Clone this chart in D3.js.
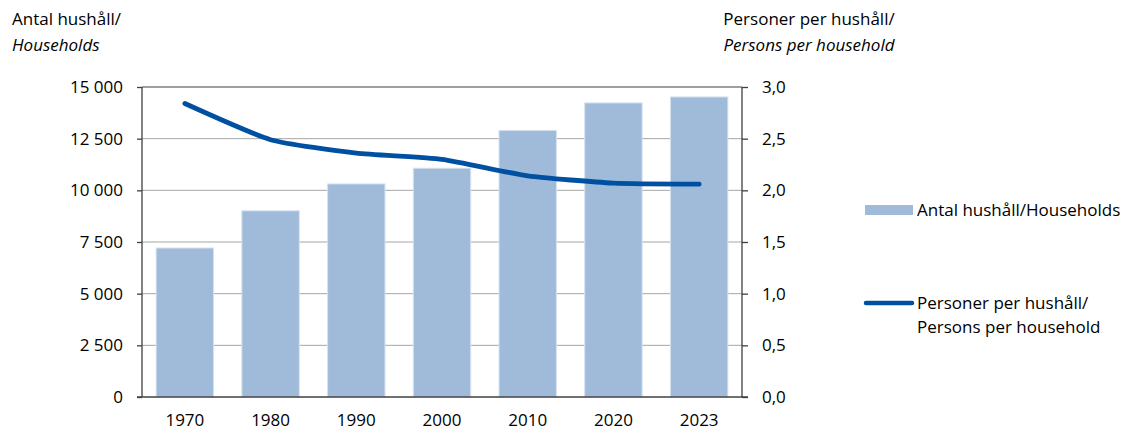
<!DOCTYPE html>
<html>
<head>
<meta charset="utf-8">
<script src="https://cdn.jsdelivr.net/npm/d3@7"></script>
<style>
  body { margin: 0; background: #fff; }
  text { font-family: "Open Sans", "Noto Sans", sans-serif; fill: #000; }
</style>
</head>
<body>
<div id="container"></div>
<script>
// data
var years = ["1970", "1980", "1990", "2000", "2010", "2020", "2023"];
var households = [7210, 9010, 10310, 11070, 12900, 14230, 14520];
var personsPerHousehold = [2.84, 2.49, 2.36, 2.30, 2.14, 2.07, 2.06];
var leftTicks = [0, 2500, 5000, 7500, 10000, 12500, 15000];
var rightTicks = [0, 0.5, 1.0, 1.5, 2.0, 2.5, 3.0];

var width = 1123;
var height = 430;
var margin = {left: 142, top: 87, right: 381, bottom: 33};

var barColor = "#a0bbda";
var lineColor = "#0050a2";
var fontSize = "17px";

const svg = d3.select("#container")
              .append("svg")
              .attr("width", width)
              .attr("height", height);

var x = d3.scaleBand()
          .domain(years)
          .range([margin.left, width - margin.right])
          .paddingInner(0.33)
          .paddingOuter(0.165);

var yLeft = d3.scaleLinear()
              .domain([0, 15000])
              .range([height - margin.bottom, margin.top]);

var yRight = d3.scaleLinear()
               .domain([0, 3])
               .range([height - margin.bottom, margin.top]);

var fmtLeft = function (d) {
    return d3.format(",")(d).replace(/,/g, " ");
};
var fmtRight = function (d) {
    return d3.format(".1f")(d).replace(".", ",");
};

// gridlines
svg.append("g")
   .selectAll("line")
   .data(leftTicks.slice(1, -1))
   .enter()
   .append("line")
   .attr("x1", margin.left)
   .attr("x2", width - margin.right)
   .attr("y1", d => yLeft(d))
   .attr("y2", d => yLeft(d))
   .attr("stroke", "#a6a6a6")
   .attr("stroke-width", 1);

// bars
svg.append("g")
   .selectAll("rect")
   .data(households)
   .enter()
   .append("rect")
   .attr("x", (d, i) => x(years[i]))
   .attr("y", d => yLeft(d))
   .attr("width", x.bandwidth())
   .attr("height", d => yLeft(0) - yLeft(d))
   .attr("fill", barColor)
   .attr("stroke", "#d6e2f0")
   .attr("stroke-width", 1);

// plot frame top
svg.append("line")
   .attr("x1", margin.left)
   .attr("x2", width - margin.right)
   .attr("y1", yLeft(15000))
   .attr("y2", yLeft(15000))
   .attr("stroke", "#404040")
   .attr("stroke-width", 1.2);

// axes
var leftAxis = d3.axisLeft(yLeft)
                 .tickValues(leftTicks)
                 .tickSize(5)
                 .tickPadding(14)
                 .tickFormat(fmtLeft);

var rightAxis = d3.axisRight(yRight)
                  .tickValues(rightTicks)
                  .tickSize(6)
                  .tickPadding(14)
                  .tickFormat(fmtRight);

var bottomAxis = d3.axisBottom(x)
                   .tickSize(0)
                   .tickPadding(17);

function styleAxis(g) {
    g.select(".domain").attr("stroke", "#404040").attr("stroke-width", 1.3);
    g.selectAll(".tick line").attr("stroke", "#404040").attr("stroke-width", 1.3);
    g.selectAll("text")
     .style("font-family", "'Open Sans', 'Noto Sans', sans-serif")
     .style("font-size", fontSize)
     .attr("fill", "#000");
}

svg.append("g")
   .attr("transform", "translate(" + margin.left + ",0)")
   .call(leftAxis)
   .call(styleAxis)
   .call(g => g.select(".domain").attr("d", "M0," + yLeft(15000) + "V" + yLeft(0)));

svg.append("g")
   .attr("transform", "translate(" + (width - margin.right) + ",0)")
   .call(rightAxis)
   .call(styleAxis)
   .call(g => g.select(".domain").attr("d", "M0," + yRight(3) + "V" + yRight(0)));

svg.append("g")
   .attr("transform", "translate(0," + (height - margin.bottom) + ")")
   .call(bottomAxis)
   .call(styleAxis)
   .call(g => g.select(".domain").attr("d", "M" + (margin.left - 5) + ",0H" + (width - margin.right + 6)));

// line (smoothed like the original)
var line = d3.line()
             .x((d, i) => x(years[i]) + x.bandwidth() / 2)
             .y(d => yRight(d))
             .curve(d3.curveCardinal.tension(0.45));

svg.append("path")
   .datum(personsPerHousehold)
   .attr("d", line)
   .attr("fill", "none")
   .attr("stroke", lineColor)
   .attr("stroke-width", 4.8)
   .attr("stroke-linecap", "round")
   .attr("stroke-linejoin", "round");

// axis titles
svg.append("text")
   .attr("x", 12)
   .attr("y", 25)
   .style("font-size", fontSize)
   .text("Antal hushåll/");

svg.append("text")
   .attr("x", 12)
   .attr("y", 51)
   .style("font-size", fontSize)
   .style("font-style", "italic")
   .text("Households");

svg.append("text")
   .attr("x", 809)
   .attr("y", 25)
   .attr("text-anchor", "middle")
   .style("font-size", fontSize)
   .text("Personer per hushåll/");

svg.append("text")
   .attr("x", 809)
   .attr("y", 51)
   .attr("text-anchor", "middle")
   .style("font-size", fontSize)
   .style("font-style", "italic")
   .text("Persons per household");

// legend
var legend = svg.append("g");

legend.append("rect")
      .attr("x", 865)
      .attr("y", 205)
      .attr("width", 48)
      .attr("height", 10)
      .attr("fill", barColor);

legend.append("text")
      .attr("x", 917)
      .attr("y", 216)
      .style("font-size", fontSize)
      .text("Antal hushåll/Households");

legend.append("line")
      .attr("x1", 866)
      .attr("x2", 912)
      .attr("y1", 303)
      .attr("y2", 303)
      .attr("stroke", lineColor)
      .attr("stroke-width", 4.5)
      .attr("stroke-linecap", "round");

legend.append("text")
      .attr("x", 917)
      .attr("y", 309)
      .style("font-size", fontSize)
      .text("Personer per hushåll/");

legend.append("text")
      .attr("x", 917)
      .attr("y", 333)
      .style("font-size", fontSize)
      .text("Persons per household");
</script>
</body>
</html>
